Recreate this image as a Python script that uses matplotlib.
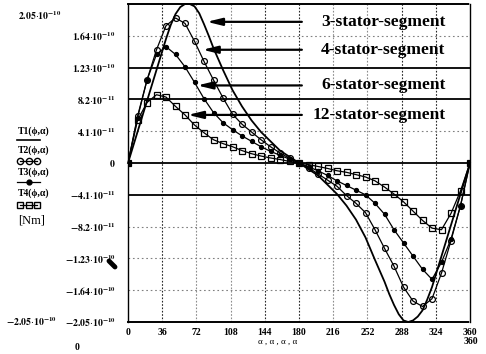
import matplotlib
matplotlib.use("Agg")
import matplotlib.pyplot as plt
from matplotlib.lines import Line2D

plt.rcParams['mathtext.fontset'] = 'stix'

# ---------------- data (torque in units of 1e-11 Nm) ----------------
angles = [0, 10, 20, 30, 40, 50, 60, 70, 80, 90, 100, 110, 120, 130, 140, 150, 160, 170, 180,
          190, 200, 210, 220, 230, 240, 250, 260, 270, 280, 290, 300, 310, 320, 330, 340, 350, 360]

t1_angle = [0, 10, 20, 30, 40, 45, 50, 55, 60, 65, 70, 75, 80, 85, 90,
            100, 110, 120, 130, 140, 150, 160, 170, 180,
            190, 200, 210, 220, 230, 240, 250, 260, 270,
            275, 280, 285, 290, 295, 300, 305, 310, 315, 320,
            330, 340, 350, 360]
t1_3stator = [0, 4.0, 8.0, 12.0, 16.0, 17.8, 19.2, 20.1, 20.5, 20.5, 20.2, 19.3, 17.9, 16.4, 14.8,
              12.0, 9.4, 7.3, 5.5, 4.0, 2.8, 1.6, 0.8, 0,
              -0.8, -1.6, -2.8, -4.0, -5.5, -7.3, -9.6, -12.5, -15.3,
              -16.9, -18.3, -19.5, -20.3, -20.5, -20.3, -19.8, -19.0, -17.6, -16.0,
              -12.0, -8.0, -4.0, 0]

t2_4stator = [0, 6.0, 10.7, 14.6, 17.7, 18.7, 18.0, 15.7, 13.1, 10.7, 8.4, 6.3, 5.0, 4.0, 3.0, 2.1, 1.3, 0.6, 0,
              -0.6, -1.4, -2.2, -3.0, -4.2, -5.2, -6.4, -8.6, -11.0, -13.3, -16.0, -17.8, -18.5, -17.5,
              -14.2, -10.0, -5.5, 0]

t3_6stator = [0, 5.8, 10.7, 14.0, 15.0, 14.0, 12.4, 10.4, 8.3, 6.5, 5.2, 4.3, 3.5, 2.8, 2.1, 1.5, 1.0, 0.5, 0,
              -0.5, -1.0, -1.6, -2.3, -2.9, -3.5, -4.1, -5.2, -6.6, -8.6, -10.3, -12.0, -13.7, -15.0,
              -12.8, -9.8, -5.5, 0]

t4_12stator = [0, 5.5, 7.8, 8.8, 8.5, 7.3, 6.2, 4.9, 3.9, 3.0, 2.5, 2.1, 1.6, 1.2, 0.9, 0.65, 0.45, 0.2, 0,
               -0.2, -0.45, -0.7, -1.0, -1.2, -1.5, -1.8, -2.3, -3.1, -4.0, -5.0, -6.2, -7.4, -8.4,
               -8.6, -6.5, -3.6, 0]

xticks = [0, 36, 72, 108, 144, 180, 216, 252, 288, 324, 360]
yticks = [16.4, 12.3, 8.2, 4.1, 0, -4.1, -8.2, -12.3, -16.4, -20.5]
ytick_mant = ['1.64', '1.23', '8.2', '4.1', '0', '-4.1', '-8.2', '-1.23', '-1.64', '-2.05']
ytick_exp = ['-10', '-10', '-11', '-11', '', '-11', '-11', '-10', '-10', '-10']

series_labels = ['3-stator-segment', '4-stator-segment', '6-stator-segment', '12-stator-segment']
arrow_tip_angle = [83, 78.5, 73, 63]
arrow_level = [18.2, 14.6, 10.0, 6.2]
legend_names = ['T1(ϕ,α)', 'T2(ϕ,α)', 'T3(ϕ,α)', 'T4(ϕ,α)']


def sci(m, e):
    if not e:
        return r'$\mathbf{%s}$' % m
    return r'$\mathbf{%s}{\cdot}\mathbf{10}^{\mathbf{%s}}$' % (m, e)


# ---------------- figure ----------------
W, H = 486, 354
fig = plt.figure(figsize=(W / 100, H / 100), dpi=100)
ax = fig.add_axes([128 / W, 1 - 322 / H, 342 / W, 318 / H])
ax.set_xlim(0, 360)
ax.set_ylim(-20.5, 20.5)

SERIF = ['Liberation Serif', 'DejaVu Serif']

# grid
dark_v = [36, 144, 180, 288, 324]
for xv in xticks[1:-1]:
    ax.axvline(xv, color='0.15' if xv in dark_v else '0.55', lw=0.8,
               ls=(0, (1.5, 1.5)), zorder=1)
solid_h = [12.3, 8.2, 0, -4.1]
for yv in [16.4, 12.3, 8.2, 4.1, 0, -4.1, -8.2, -12.3, -16.4]:
    if yv in solid_h:
        ax.axhline(yv, color='black', lw=1.3, zorder=1)
    else:
        ax.axhline(yv, color='0.5', lw=0.8, ls=(0, (1.5, 2.5)), zorder=1)

# curves
ax.plot(t1_angle, t1_3stator, color='black', lw=1.3, zorder=4, clip_on=False)
ax.plot(angles, t2_4stator, color='black', lw=0.9, marker='o', ms=4.2, mfc='none', mew=0.9, zorder=4)
ax.plot(angles, t3_6stator, color='black', lw=0.9, marker='o', ms=2.8, mfc='black', zorder=4)
ax.plot(angles, t4_12stator, color='black', lw=0.9, marker='s', ms=3.8, mfc='none', mew=0.9, zorder=4)

# arrows and labels
for lab, tip, lev in zip(series_labels, arrow_tip_angle, arrow_level):
    ax.annotate('', xy=(tip, lev), xytext=(183, lev),
                arrowprops=dict(arrowstyle='-|>,head_length=0.9,head_width=0.22',
                                color='black', lw=1.6, shrinkA=0, shrinkB=0), zorder=5)
    ax.text(334, lev, lab, ha='right', va='center', fontsize=12.5, fontweight='bold',
            family=SERIF, zorder=5)

# spines
for s in ['top', 'bottom']:
    ax.spines[s].set_linestyle((0, (3, 1)))
    ax.spines[s].set_linewidth(1.4)
for s in ['left', 'right']:
    ax.spines[s].set_linestyle((0, (1.5, 1)))
    ax.spines[s].set_linewidth(1.0)

ax.set_xticks(xticks)
ax.set_xticklabels([str(v) for v in xticks], fontsize=7, fontweight='bold', family=SERIF)
ax.set_yticks(yticks)
ax.set_yticklabels([sci(m, e) for m, e in zip(ytick_mant, ytick_exp)], fontsize=7)
ax.tick_params(axis='x', length=0, pad=4)
ax.tick_params(axis='y', length=0, pad=9)


def ftext(x, y, s, **kw):
    fig.text(x / W, 1 - y / H, s, **kw)


ftext(278, 342, 'α , α , α , α', ha='center', va='center', fontsize=6.5, family=SERIF)
ftext(471, 342, '360', ha='center', va='center', fontsize=7, fontweight='bold', family=SERIF)
ftext(77, 348, '0', ha='center', va='center', fontsize=7, fontweight='bold', family=SERIF)
ftext(40, 16, sci('2.05', '-10'), ha='center', va='center', fontsize=7)
ftext(31, 322, sci('-2.05', '-10'), ha='center', va='center', fontsize=7)

# left legend
leg_text_y = [131, 150, 172, 193]
leg_sym_y = [140, 161, 182, 205]
for name, ty in zip(legend_names, leg_text_y):
    ftext(18, ty, name, ha='left', va='center', fontsize=7, fontweight='bold', family=SERIF)
ftext(18, 220, '[Nm]', ha='left', va='center', fontsize=9, family=SERIF)


def fline(xs, ys, **kw):
    fig.add_artist(Line2D([x / W for x in xs], [1 - y / H for y in ys],
                          transform=fig.transFigure, color='black', **kw))


fline([17, 40], [leg_sym_y[0]] * 2, lw=1.2)
fline([20, 28.5, 37], [leg_sym_y[1]] * 3, lw=0.9, marker='o', ms=4.5, mfc='none', mew=1.0)
fline([17, 40], [leg_sym_y[2]] * 2, lw=0.9)
fline([28.5], [leg_sym_y[2]], lw=0, marker='o', ms=3.5, mfc='black')
fline([20, 28.5, 37], [leg_sym_y[3]] * 3, lw=0.9, marker='s', ms=4.5, mfc='none', mew=1.0)

# small dark blot near the -1.23e-10 label
fline([109, 115], [261, 267], lw=3.5, solid_capstyle='round')

fig.savefig('out.png', dpi=100)
